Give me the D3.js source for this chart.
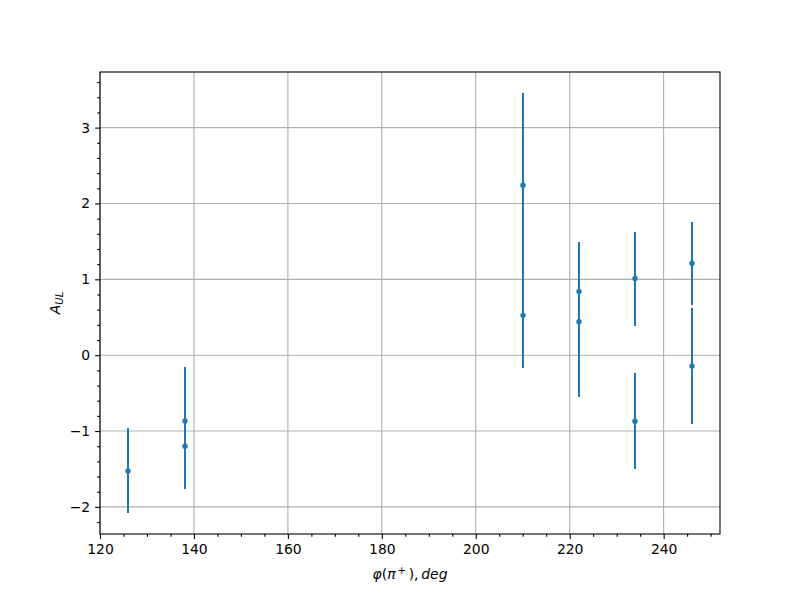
<!DOCTYPE html>
<html><head><meta charset="utf-8">
<script src="https://cdn.jsdelivr.net/npm/d3@7"></script>
<style>body{margin:0;background:#fff}text{font-family:"DejaVu Sans",sans-serif}</style>
</head><body>
<svg id="c" width="800" height="600"></svg>
<script>
const phi = [126, 138, 138, 210, 210, 222, 222, 234, 234, 246, 246];
const aul = [-1.525, -0.866, -1.20, 2.24, 0.525, 0.84, 0.44, 1.01, -0.87, 1.213, -0.144];
const err = [0.56, 0.71, 0.56, 1.216, 0.70, 0.65, 0.985, 0.62, 0.63, 0.545, 0.765];
const xTicks = [120, 140, 160, 180, 200, 220, 240];
const yTicks = [-2, -1, 0, 1, 2, 3];

const svg = d3.select("#c");
const L = 100, R = 720, T = 72, B = 534;
const x = d3.scaleLinear().domain([120, 252]).range([L, R]);
const y = d3.scaleLinear().domain([-2.357, 3.733]).range([B, T]);
const col = "#1f77b4";

// grid
const g = svg.append("g");
g.selectAll("line.gx").data(xTicks).enter().append("line")
  .attr("x1", d => x(d)).attr("x2", d => x(d)).attr("y1", T).attr("y2", B)
  .attr("stroke", "#b0b0b0").attr("stroke-width", 1.1);
g.selectAll("line.gy").data(yTicks).enter().append("line")
  .attr("y1", d => y(d)).attr("y2", d => y(d)).attr("x1", L).attr("x2", R)
  .attr("stroke", "#b0b0b0").attr("stroke-width", 1.1);

// error bars
const idx = d3.range(phi.length);
svg.append("g").selectAll("line").data(idx).enter().append("line")
  .attr("x1", i => Math.round(x(phi[i]))).attr("x2", i => Math.round(x(phi[i])))
  .attr("y1", i => y(aul[i] - err[i])).attr("y2", i => y(aul[i] + err[i]))
  .attr("stroke", col).attr("stroke-width", 2).attr("shape-rendering", "crispEdges");
svg.append("g").selectAll("circle").data(idx).enter().append("circle")
  .attr("cx", i => Math.round(x(phi[i]))).attr("cy", i => y(aul[i])).attr("r", 2.7)
  .attr("fill", col);

// axes
const xAxis = d3.axisBottom(x).tickValues(xTicks).tickSize(4.9).tickPadding(4.9).tickFormat(d3.format("d"));
const xMinor = d3.axisBottom(x).tickValues(d3.range(120, 252, 5).filter(v => v % 20 !== 0)).tickSize(2.8).tickFormat("");
const yAxis = d3.axisLeft(y).tickValues(yTicks).tickSize(4.9).tickPadding(4.9).tickFormat(d => d < 0 ? "\u2212" + Math.abs(d) : d);
const yMinor = d3.axisLeft(y).tickValues(d3.range(-2.2, 3.7, 0.2).map(v => Math.round(v * 10) / 10).filter(v => Math.abs(v - Math.round(v)) > 1e-6)).tickSize(2.8).tickFormat("");

function style(sel) {
  sel.select(".domain").remove();
  sel.selectAll("line").attr("stroke", "#000").attr("stroke-width", 1.1);
  sel.selectAll("text").attr("font-size", 13.9).attr("fill", "#000").attr("font-family", "DejaVu Sans");
}
svg.append("g").attr("transform", `translate(0,${B})`).call(xAxis).call(style);
svg.append("g").attr("transform", `translate(0,${B})`).call(xMinor).call(style);
svg.append("g").attr("transform", `translate(${L},0)`).call(yAxis).call(style);
svg.append("g").attr("transform", `translate(${L},0)`).call(yMinor).call(style);

// frame
svg.append("rect").attr("x", L).attr("y", T).attr("width", R - L).attr("height", B - T)
  .attr("fill", "none").attr("stroke", "#000").attr("stroke-width", 1.1);

// labels
const xl = svg.append("text").attr("x", (L + R) / 2).attr("y", 579).attr("text-anchor", "middle")
  .attr("font-size", 13.9).attr("font-family", "DejaVu Sans");
xl.append("tspan").attr("font-style", "italic").text("\u03c6");
xl.append("tspan").text("(");
xl.append("tspan").attr("font-style", "italic").text("\u03c0");
xl.append("tspan").attr("font-size", 10).attr("dy", -5).text("\u2009+");
xl.append("tspan").attr("dy", 5).text("\u2009),\u2009");
xl.append("tspan").attr("font-style", "italic").text("deg");

const yl = svg.append("text").attr("transform", "translate(60,303) rotate(-90)").attr("text-anchor", "middle")
  .attr("font-size", 13.9).attr("font-family", "DejaVu Sans");
yl.append("tspan").attr("font-style", "italic").text("A");
yl.append("tspan").attr("font-style", "italic").attr("font-size", 10).attr("dy", 3).text("UL");
</script>
</body></html>
